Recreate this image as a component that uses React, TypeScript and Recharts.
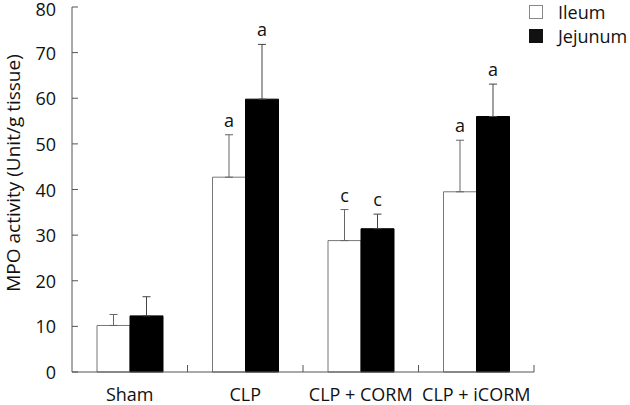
import React from 'react';
import { BarChart, Bar, XAxis, YAxis, ErrorBar, LabelList } from 'recharts';

const categories = ['Sham', 'CLP', 'CLP + CORM', 'CLP + iCORM'];
const ileum = [10.2, 42.7, 28.8, 39.5];
const ileumErr = [2.4, 9.3, 6.8, 11.3];
const jejunum = [12.3, 59.8, 31.4, 56.0];
const jejunumErr = [4.2, 12.0, 3.2, 7.1];
const ileumSig = ['', 'a', 'c', 'a'];
const jejunumSig = ['', 'a', 'c', 'a'];
const yTicks = [0, 10, 20, 30, 40, 50, 60, 70, 80];
const seriesNames = ['Ileum', 'Jejunum'];

const data = categories.map((c, i) => ({
  name: c,
  ileum: ileum[i],
  ileumE: [0, ileumErr[i]],
  ileumSig: ileumSig[i],
  jejunum: jejunum[i],
  jejunumE: [0, jejunumErr[i]],
  jejunumSig: jejunumSig[i],
}));

const FONT = '"Open Sans", sans-serif';
const AXIS = '#555';

const YTick = (props: any) => {
  const { x, y, payload } = props;
  const baseline = Math.max(y + 7, 16);
  return (
    <g>
      <line x1={x} x2={x + 6} y1={y} y2={y} stroke={AXIS} strokeWidth={1} />
      <text x={x - 16} y={baseline} textAnchor="end" fontFamily={FONT} fontSize={18} fill="#111">
        {payload.value}
      </text>
    </g>
  );
};

const XTick = (props: any) => {
  const { x, y, payload, width, visibleTicksCount } = props;
  const half = payload.offset ? payload.offset : width / visibleTicksCount / 2;
  return (
    <g>
      <line x1={x + half} x2={x + half} y1={y} y2={y - 7} stroke={AXIS} strokeWidth={1} />
      <text x={x} y={y + 29} textAnchor="middle" fontFamily={FONT} fontSize={18} fill="#111">
        {payload.value}
      </text>
    </g>
  );
};

const makeSigLabel = (vals: number[], errs: number[]) => (props: any) => {
  const { x, y, width, height, value, index } = props;
  if (!value) return null;
  const top = y - errs[index] * (height / vals[index]);
  return (
    <text x={x + width / 2} y={top - 8} textAnchor="middle" fontFamily={FONT} fontSize={18} fill="#111">
      {value}
    </text>
  );
};

const LegendBox = () => (
  <div
    style={{
      position: 'absolute',
      left: 529,
      top: 0,
      fontFamily: FONT,
      fontSize: 18,
      color: '#111',
      lineHeight: '24px',
    }}
  >
    <div style={{ display: 'flex', alignItems: 'center' }}>
      <span style={{ display: 'inline-block', width: 12, height: 12, border: '1px solid #888', background: '#fff', marginRight: 15 }} />
      <span>{seriesNames[0]}</span>
    </div>
    <div style={{ display: 'flex', alignItems: 'center' }}>
      <span style={{ display: 'inline-block', width: 14, height: 14, background: '#111', marginRight: 15 }} />
      <span>{seriesNames[1]}</span>
    </div>
  </div>
);

export default function App() {
  return (
    <div style={{ position: 'absolute', left: 0, top: 0, width: 630, height: 405, background: '#fff' }}>
      <BarChart
        width={630}
        height={405}
        data={data}
        margin={{ top: 7, right: 96, bottom: 0, left: 32 }}
        barGap={0}
        barSize={33}
      >
        <XAxis
          dataKey="name"
          height={33}
          tickSize={0}
          tickMargin={0}
          tickLine={false}
          axisLine={{ stroke: AXIS }}
          tick={<XTick />}
          interval={0}
        />
        <YAxis
          width={40}
          domain={[0, 80]}
          ticks={yTicks}
          tickSize={0}
          tickMargin={0}
          tickLine={false}
          axisLine={{ stroke: AXIS }}
          tick={<YTick />}
          interval={0}
        />
        <Bar dataKey="ileum" name={seriesNames[0]} fill="#fff" stroke="#777" strokeWidth={1} isAnimationActive={false}>
          <ErrorBar dataKey="ileumE" width={4} stroke="#666" strokeWidth={1} direction="y" />
          <LabelList dataKey="ileumSig" content={makeSigLabel(ileum, ileumErr)} />
        </Bar>
        <Bar dataKey="jejunum" name={seriesNames[1]} fill="#000" stroke="#000" strokeWidth={1} isAnimationActive={false}>
          <ErrorBar dataKey="jejunumE" width={4} stroke="#444" strokeWidth={1} direction="y" />
          <LabelList dataKey="jejunumSig" content={makeSigLabel(jejunum, jejunumErr)} />
        </Bar>
      </BarChart>
      <LegendBox />
      <svg style={{ position: 'absolute', left: 0, top: 0, pointerEvents: 'none' }} width={40} height={405}>
        <text
          transform="translate(20, 173) rotate(-90)"
          textAnchor="middle"
          fontFamily={FONT}
          fontSize={19}
          fill="#111"
        >
          MPO activity (Unit/g tissue)
        </text>
      </svg>
    </div>
  );
}
